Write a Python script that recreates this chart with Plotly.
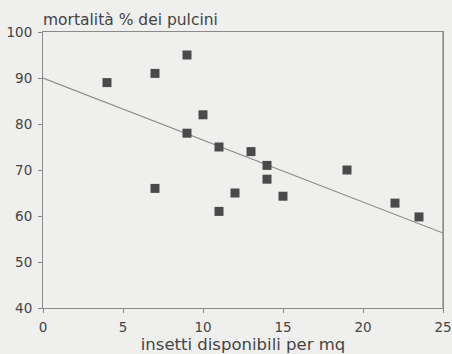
import plotly.graph_objects as go

insetti = [4, 7, 9, 10, 9, 11, 13, 14, 14, 19, 7, 11, 12, 15, 22, 23.5]
mortalita = [89, 91, 95, 82, 78, 75, 74, 71, 68, 70, 66, 61, 65, 64.3, 62.8, 59.8]
retta_x = [0, 25]
retta_y = [90, 56.3]
x_ticks = [0, 5, 10, 15, 20, 25]
y_ticks = [40, 50, 60, 70, 80, 90, 100]

bg = "#efefed"
axc = "#8a8a8a"
txt = "#444444"
fam = "DejaVu Sans, Verdana, sans-serif"

fig = go.Figure()
fig.add_trace(go.Scatter(x=retta_x, y=retta_y, mode="lines",
                         line=dict(color="#8c8c8c", width=1.2), hoverinfo="skip"))
fig.add_trace(go.Scatter(x=insetti, y=mortalita, mode="markers",
                         marker=dict(symbol="square", size=9, color="#4a4a4a")))

fig.update_layout(
    width=452, height=354,
    margin=dict(l=43, r=9, t=32, b=46),
    paper_bgcolor=bg, plot_bgcolor=bg,
    showlegend=False,
    font=dict(family=fam, color=txt, size=13),
    xaxis=dict(range=[0, 25], tickvals=x_ticks, showgrid=False, zeroline=False,
               showline=True, linecolor=axc, linewidth=1, mirror=True,
               ticks="outside", ticklen=4, tickcolor=axc, automargin=False,
               ticklabeloverflow="allow", ticklabelstandoff=3,
               tickfont=dict(size=13.5),
               title=dict(text="insetti disponibili per mq", font=dict(size=16.5, color=txt), standoff=0)),
    yaxis=dict(range=[40, 100], tickvals=y_ticks, showgrid=False, zeroline=False,
               showline=True, linecolor=axc, linewidth=1, mirror=True,
               ticks="outside", ticklen=4, tickcolor=axc, automargin=False,
               ticklabeloverflow="allow", ticklabelstandoff=3,
               tickfont=dict(size=13.5)),
    shapes=[dict(type="line", xref="paper", yref="paper", x0=1, y0=0, x1=1, y1=1,
                 line=dict(color=axc, width=1.3), layer="above")],
    annotations=[dict(text="mortalità % dei pulcini", xref="paper", yref="paper",
                      x=0, y=1, xanchor="left", yanchor="bottom", yshift=1, xshift=-2,
                      showarrow=False, font=dict(size=15.5, color=txt))],
)

fig.write_html("out.html", config={"displayModeBar": False},
               post_script="document.body.style.margin='0';document.body.style.overflow='hidden';")
